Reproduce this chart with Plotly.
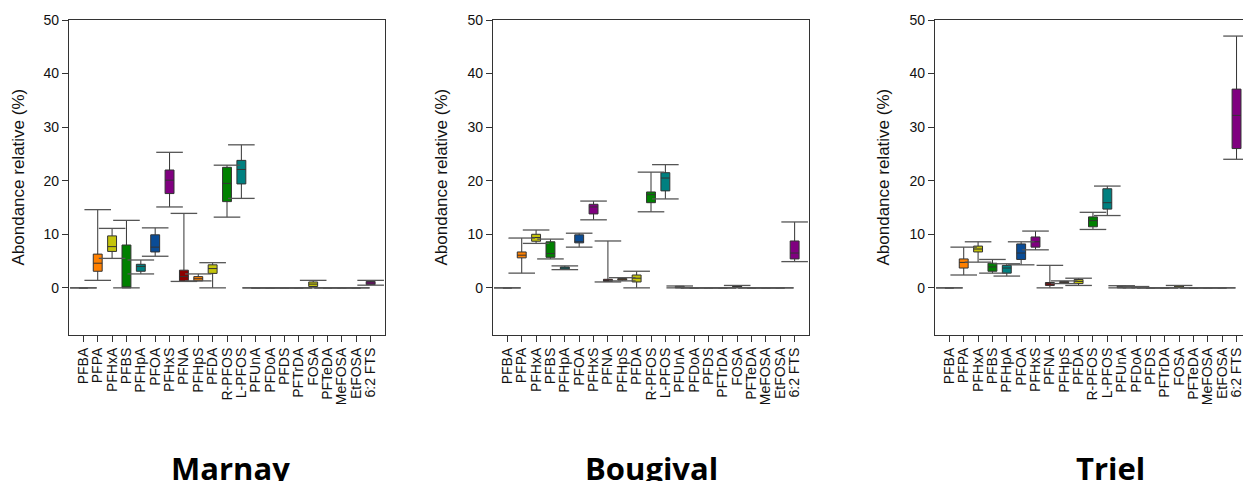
import plotly.graph_objects as go

categories = ["PFBA", "PFPA", "PFHxA", "PFBS", "PFHpA", "PFOA", "PFHxS", "PFNA", "PFHpS", "PFDA",
              "R-PFOS", "L-PFOS", "PFUnA", "PFDoA", "PFDS", "PFTrDA", "FOSA", "PFTeDA", "MeFOSA",
              "EtFOSA", "6:2 FTS"]

box_colors = ["#808080", "#ff8000", "#c4c40c", "#008000", "#008080", "#0a4c96", "#800080", "#8b0000",
              "#ff8000", "#c4c40c", "#008000", "#008080", "#808080", "#808080", "#808080", "#808080",
              "#c4c40c", "#808080", "#808080", "#808080", "#800080"]

sites = ["Marnay", "Bougival", "Triel"]

# Marnay
marnay_low = [0, 1.4, 5.5, 0, 2.6, 5.9, 15.1, 1.2, 1.3, 0, 13.2, 16.7, 0, 0, 0, 0, 0, 0, 0, 0, 0.5]
marnay_q1 = [0, 3.1, 6.8, 0, 3.1, 6.7, 17.6, 1.3, 1.3, 2.7, 16.1, 19.4, 0, 0, 0, 0, 0.25, 0, 0, 0, 0.6]
marnay_med = [0, 4.6, 7.7, 0.1, 4.0, 7.6, 20.1, 2.1, 1.7, 3.6, 19.5, 22.1, 0, 0, 0, 0, 0.7, 0, 0, 0, 0.9]
marnay_q3 = [0, 6.3, 9.7, 8.0, 4.4, 9.9, 22.0, 3.3, 2.1, 4.3, 22.5, 23.8, 0, 0, 0, 0, 1.1, 0, 0, 0, 1.2]
marnay_up = [0, 14.6, 11.1, 12.6, 5.2, 11.2, 25.3, 13.9, 2.6, 4.7, 22.9, 26.7, 0, 0, 0, 0, 1.4, 0, 0, 0, 1.4]

# Bougival
bougival_low = [0, 2.75, 8.3, 5.4, 3.4, 7.6, 12.7, 1.1, 1.3, 0, 14.2, 16.6, 0, 0, 0, 0, 0, 0, 0, 0, 4.9]
bougival_q1 = [0, 5.6, 8.7, 5.7, 3.5, 8.4, 13.8, 1.2, 1.45, 1.1, 15.9, 18.1, 0, 0, 0, 0, 0.1, 0, 0, 0, 5.4]
bougival_med = [0, 6.1, 9.4, 6.4, 3.75, 8.6, 15.1, 1.3, 1.6, 1.8, 17.4, 20.5, 0.1, 0, 0, 0, 0.25, 0, 0, 0, 6.5]
bougival_q3 = [0, 6.7, 10.0, 8.6, 3.9, 9.9, 15.6, 1.6, 1.75, 2.4, 17.9, 21.5, 0.3, 0, 0, 0, 0.35, 0, 0, 0, 8.75]
bougival_up = [0, 9.3, 10.8, 9.1, 4.1, 10.2, 16.2, 8.75, 1.9, 3.1, 21.6, 23.0, 0.35, 0, 0, 0, 0.45, 0, 0, 0, 12.3]

# Triel
triel_low = [0, 2.4, 4.8, 2.75, 2.2, 4.3, 7.1, 0, 0.8, 0.45, 10.9, 13.5, 0, 0, 0, 0, 0, 0, 0, 0, 24.0]
triel_q1 = [0, 3.7, 6.7, 3.1, 2.75, 5.3, 7.6, 0.45, 0.95, 0.8, 11.4, 14.7, 0, 0, 0, 0, 0.05, 0, 0, 0, 26.0]
triel_med = [0, 4.75, 7.25, 3.9, 3.7, 6.5, 8.6, 0.75, 1.05, 1.2, 12.55, 15.9, 0.15, 0.1, 0, 0, 0.2, 0, 0, 0, 32.2]
triel_q3 = [0, 5.4, 7.8, 4.6, 4.2, 8.2, 9.5, 1.0, 1.2, 1.55, 13.25, 18.5, 0.35, 0.2, 0, 0, 0.35, 0, 0, 0, 37.1]
triel_up = [0, 7.6, 8.6, 5.3, 4.5, 8.6, 10.6, 4.2, 1.3, 1.8, 14.1, 19.0, 0.4, 0.25, 0, 0, 0.45, 0, 0, 0, 47.0]

y_ticks = [0, 10, 20, 30, 40, 50]
y_title = "Abondance relative (%)"

data = {
    "Marnay": (marnay_low, marnay_q1, marnay_med, marnay_q3, marnay_up),
    "Bougival": (bougival_low, bougival_q1, bougival_med, bougival_q3, bougival_up),
    "Triel": (triel_low, triel_q1, triel_med, triel_q3, triel_up),
}

W, H = 1243, 481
x_domains = [(69 / W, 385 / W), (493 / W, 809 / W), (935 / W, 1.0)]
x_ranges = [[-1, 21], [-1, 21], [-1, 20.45]]
plot_top, plot_bottom = 20, 335
y_domain = ((H - plot_bottom) / H, (H - plot_top) / H)
title_x = [230, 651, 1110]
ytitle_x = [18, 441, 883]

fig = go.Figure()
font_main = "Arial, Liberation Sans, sans-serif"

for i, site in enumerate(sites):
    low, q1, med, q3, up = data[site]
    xa = "x" if i == 0 else f"x{i + 1}"
    ya = "y" if i == 0 else f"y{i + 1}"
    for j, cat in enumerate(categories):
        fig.add_trace(go.Box(
            x=[cat], q1=[q1[j]], median=[med[j]], q3=[q3[j]],
            lowerfence=[low[j]], upperfence=[up[j]],
            fillcolor=box_colors[j], line=dict(color="#333333", width=1),
            whiskerwidth=0, width=0.62, boxpoints=False, showlegend=False,
            xaxis=xa, yaxis=ya, hoverinfo="skip",
        ))
    fig.add_trace(go.Scatter(
        x=categories + categories, y=low + up, mode="markers",
        marker=dict(symbol="line-ew", size=19, line=dict(color="#555555", width=1.3)),
        showlegend=False, xaxis=xa, yaxis=ya, hoverinfo="skip", cliponaxis=True,
    ))

    axis_line = dict(showline=True, linecolor="#333333", linewidth=1.2, showgrid=False, zeroline=False)
    fig.layout[f"xaxis{'' if i == 0 else i + 1}"] = dict(
        domain=list(x_domains[i]), anchor=ya, type="category",
        categoryorder="array", categoryarray=categories, range=x_ranges[i],
        tickmode="array", tickvals=categories, ticktext=categories,
        ticks="outside", ticklen=6, tickcolor="#333333", tickangle=-90,
        tickfont=dict(family=font_main, size=14, color="#111111"),
        mirror=True, automargin=False, **axis_line,
    )
    fig.layout[f"yaxis{'' if i == 0 else i + 1}"] = dict(
        domain=list(y_domain), anchor=xa, range=[-8.8, 50], tickvals=y_ticks,
        ticks="outside", ticklen=6, tickcolor="#333333",
        tickfont=dict(family=font_main, size=14, color="#111111"),
        mirror=(i < 2), automargin=False, **axis_line,
    )
    fig.add_annotation(
        text=y_title, textangle=-90, xref="paper", yref="paper",
        x=ytitle_x[i] / W, y=(y_domain[0] + y_domain[1]) / 2,
        xanchor="center", yanchor="middle", showarrow=False,
        font=dict(family=font_main, size=17, color="#111111"),
    )
    fig.add_annotation(
        text=f"<b>{site}</b>", xref="paper", yref="paper",
        x=title_x[i] / W, y=(H - 468) / H, xanchor="center", yanchor="middle",
        showarrow=False, font=dict(family="Open Sans, Lato, sans-serif", size=31, color="#000000"),
    )

fig.update_layout(
    width=W, height=H, margin=dict(l=0, r=0, t=0, b=0, autoexpand=False),
    paper_bgcolor="white", plot_bgcolor="white", boxmode="overlay",
)

fig.write_html("out.html", config={"displayModeBar": False},
               post_script="document.body.style.margin='0';")
